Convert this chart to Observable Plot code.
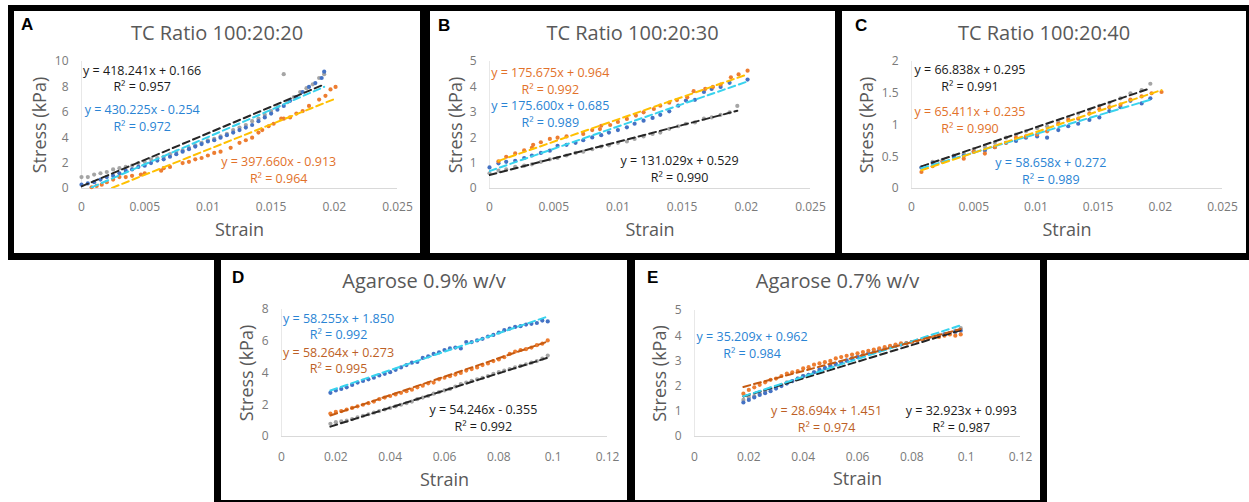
<!DOCTYPE html>
<html><head><meta charset="utf-8">
<script src="https://cdn.jsdelivr.net/npm/d3@7"></script>
<script src="https://cdn.jsdelivr.net/npm/@observablehq/plot@0.6"></script>
<style>
html,body{margin:0;padding:0;background:#fff}
body{width:1249px;height:502px;position:relative;overflow:hidden;font-family:"Open Sans",sans-serif}
.blk{position:absolute;background:#000}
.pan{position:absolute;background:#fff;overflow:hidden}
.pan svg{position:absolute;left:0;top:0;overflow:visible}
.ttl{position:absolute;left:0;width:100%;text-align:center;font-size:20px;line-height:20px;color:#595959;white-space:nowrap}
.let{position:absolute;font-family:"Liberation Sans",Arial,sans-serif;font-weight:bold;font-size:17px;line-height:17px;color:#000}
</style></head>
<body>
<div class="blk" style="left:8px;top:5px;width:1241px;height:255px"></div>
<div class="blk" style="left:214px;top:253px;width:833px;height:249px"></div>
<script>
// ---------- data ----------
const titles = ["TC Ratio 100:20:20","TC Ratio 100:20:30","TC Ratio 100:20:40","Agarose 0.9% w/v","Agarose 0.7% w/v"];
const letters = ["A","B","C","D","E"];

const xTicksTC = [0,0.005,0.01,0.015,0.02,0.025];
const xTicksAg = [0,0.02,0.04,0.06,0.08,0.1,0.12];
const yTicksA = [0,2,4,6,8,10];
const yTicksB = [0,1,2,3,4,5];
const yTicksC = [0,0.5,1,1.5,2];
const yTicksD = [0,2,4,6,8];
const yTicksE = [0,1,2,3,4,5];

// Panel A
const A_gray = [[0,0.9],[0.0005,0.9],[0.001,1.1],[0.0015,1.2],[0.002,1.3],[0.0025,1.5],[0.003,1.6],[0.0035,1.7],[0.004,1.8],[0.0045,2.0],[0.005,2.1],[0.0055,2.3],[0.006,2.4],[0.0065,2.5],[0.007,2.7],[0.0075,2.9],[0.008,3.0],[0.0085,3.2],[0.009,3.4],[0.0095,3.6],[0.01,3.8],[0.0105,3.9],[0.011,4.1],[0.0115,4.3],[0.012,4.6],[0.0125,4.8],[0.013,5.0],[0.0135,5.3],[0.014,5.5],[0.0145,5.8],[0.015,6.1],[0.0155,6.4],[0.016,9.0],[0.0163,6.8],[0.0168,7.2],[0.0173,7.6],[0.0178,7.9],[0.0183,8.2],[0.0188,8.7],[0.0192,9.0]];
const A_blue = [[0,0.3],[0.0005,0.4],[0.001,0.5],[0.0015,0.7],[0.002,0.9],[0.0025,1.0],[0.003,1.2],[0.0035,1.4],[0.004,1.5],[0.0045,1.7],[0.005,1.8],[0.0055,2.0],[0.006,2.2],[0.0065,2.3],[0.007,2.5],[0.0075,2.7],[0.008,2.9],[0.0085,3.1],[0.009,3.3],[0.0095,3.5],[0.01,3.7],[0.0105,3.8],[0.011,4.0],[0.0115,4.2],[0.012,4.4],[0.0125,4.6],[0.013,4.8],[0.0135,5.0],[0.014,5.3],[0.0145,5.6],[0.015,5.9],[0.0155,6.2],[0.016,6.5],[0.0165,6.9],[0.017,7.2],[0.0175,7.6],[0.018,8.0],[0.0185,8.3],[0.019,8.7],[0.0192,9.2]];
const A_orange = [[0.0008,0.1],[0.0012,0.2],[0.0016,0.3],[0.002,0.5],[0.0025,0.7],[0.003,0.9],[0.0035,0.9],[0.004,1.0],[0.0047,1.1],[0.005,1.2],[0.0063,1.4],[0.0065,1.6],[0.007,1.7],[0.008,2.0],[0.0085,2.1],[0.009,2.3],[0.0095,2.4],[0.01,2.6],[0.0105,2.8],[0.011,2.9],[0.0118,3.2],[0.0125,3.6],[0.013,3.8],[0.0135,4.0],[0.014,4.4],[0.0143,4.6],[0.0148,4.9],[0.0152,5.1],[0.0158,5.5],[0.016,5.5],[0.0165,5.6],[0.017,5.9],[0.0175,6.1],[0.018,6.5],[0.0188,7.0],[0.0193,7.3],[0.0197,7.8],[0.0201,8.0]];
const A_fitSlope = [418.241, 430.225, 397.660];
const A_fitIntercept = [0.166, -0.254, -0.913];
const A_fitR2 = ["0.957","0.972","0.964"];

// Panel B
const B_gray = [[0,0.6],[0.0007,0.7],[0.0013,0.75],[0.002,0.85],[0.0027,0.9],[0.0033,0.95],[0.004,1.05],[0.0047,1.15],[0.0053,1.2],[0.006,1.3],[0.0067,1.4],[0.0073,1.45],[0.008,1.55],[0.0087,1.65],[0.0093,1.7],[0.01,1.8],[0.0107,1.85],[0.0113,1.95],[0.012,2.05],[0.0127,2.15],[0.0133,2.2],[0.014,2.35],[0.0147,2.45],[0.0153,2.55],[0.016,2.6],[0.0167,2.75],[0.0173,2.8],[0.018,2.9],[0.0187,3.0],[0.0193,3.25]];
const B_blue = [[0,0.83],[0.0007,0.99],[0.0013,1.05],[0.002,1.09],[0.0027,1.2],[0.0033,1.3],[0.004,1.4],[0.0047,1.49],[0.0053,1.68],[0.006,1.72],[0.0067,1.8],[0.0073,1.9],[0.008,2.01],[0.0087,2.1],[0.0093,2.2],[0.01,2.3],[0.0107,2.41],[0.0113,2.55],[0.012,2.67],[0.0127,2.78],[0.0133,2.9],[0.014,3.04],[0.0147,3.26],[0.0153,3.46],[0.016,3.49],[0.0167,3.8],[0.0173,3.92],[0.018,4.0],[0.0187,4.16],[0.0201,4.29]];
const B_orange = [[0.0007,1.07],[0.0013,1.25],[0.002,1.38],[0.0027,1.5],[0.0033,1.6],[0.0034,1.72],[0.004,1.82],[0.0047,1.95],[0.0053,2.0],[0.006,2.05],[0.0073,2.15],[0.008,2.3],[0.0086,2.34],[0.0087,2.47],[0.0094,2.5],[0.01,2.62],[0.0107,2.74],[0.0114,2.87],[0.012,3.0],[0.0128,3.13],[0.0133,3.26],[0.014,3.38],[0.0146,3.48],[0.0154,3.59],[0.0159,3.83],[0.0168,3.92],[0.0174,4.0],[0.018,4.09],[0.0188,4.38],[0.0194,4.49],[0.0201,4.64]];
const B_fitSlope = [131.029, 175.600, 175.675];
const B_fitIntercept = [0.529, 0.685, 0.964];
const B_fitR2 = ["0.990","0.989","0.992"];

// Panel C
const C_gray = [[0.0008,0.33],[0.0017,0.42],[0.0025,0.45],[0.0034,0.52],[0.0042,0.55],[0.005,0.62],[0.0059,0.66],[0.0067,0.72],[0.0076,0.8],[0.0084,0.85],[0.0092,0.9],[0.0101,0.95],[0.0109,0.98],[0.0118,1.05],[0.0126,1.12],[0.0134,1.18],[0.0143,1.24],[0.0151,1.3],[0.0159,1.35],[0.0168,1.42],[0.0176,1.5],[0.0185,1.55],[0.0192,1.65]];
const C_blue = [[0.0008,0.33],[0.0017,0.4],[0.0025,0.43],[0.0034,0.5],[0.0042,0.52],[0.005,0.58],[0.0059,0.6],[0.0067,0.65],[0.0076,0.72],[0.0084,0.75],[0.0092,0.8],[0.0101,0.82],[0.0109,0.8],[0.0118,0.92],[0.0126,0.98],[0.0134,1.02],[0.0143,1.08],[0.0151,1.12],[0.0159,1.22],[0.0168,1.28],[0.0176,1.38],[0.0185,1.34],[0.0192,1.42]];
const C_orange = [[0.0008,0.26],[0.0017,0.35],[0.0025,0.42],[0.0042,0.47],[0.005,0.58],[0.0059,0.55],[0.0067,0.65],[0.0076,0.72],[0.0084,0.8],[0.0092,0.82],[0.0101,0.85],[0.0109,0.9],[0.0118,1.02],[0.0126,1.08],[0.0134,1.1],[0.0143,1.18],[0.0151,1.25],[0.0159,1.28],[0.0168,1.32],[0.0176,1.4],[0.0185,1.45],[0.0193,1.5],[0.0201,1.52]];
const C_fitSlope = [66.838, 58.658, 65.411];
const C_fitIntercept = [0.295, 0.272, 0.235];
const C_fitR2 = ["0.991","0.989","0.990"];

// Panels D and E share strain steps
const agStrain = [0.018,0.02,0.022,0.024,0.026,0.028,0.03,0.032,0.034,0.036,0.038,0.04,0.042,0.044,0.046,0.048,0.05,0.052,0.054,0.056,0.058,0.06,0.062,0.064,0.066,0.068,0.07,0.072,0.074,0.076,0.078,0.08,0.082,0.084,0.086,0.088,0.09,0.092,0.094,0.096,0.098];
const D_grayStress = [0.8,0.9,0.95,1.0,1.1,1.2,1.3,1.4,1.5,1.6,1.7,1.8,1.9,2.0,2.1,2.2,2.35,2.45,2.55,2.7,2.8,2.9,3.0,3.15,3.3,3.4,3.5,3.6,3.7,3.8,3.95,4.05,4.15,4.25,4.35,4.45,4.55,4.65,4.75,4.9,5.1];
const D_blueStress = [2.75,2.9,3.0,3.1,3.25,3.4,3.5,3.6,3.7,3.85,3.95,4.05,4.2,4.35,4.5,4.65,4.7,4.95,5.05,5.2,5.3,5.45,5.55,5.6,5.55,5.95,5.95,6.05,6.15,6.3,6.4,6.55,6.7,6.8,6.9,6.95,7.05,7.1,7.15,7.3,7.25];
const D_orangeStress = [1.45,1.55,1.6,1.7,1.8,1.9,2.0,2.1,2.2,2.35,2.45,2.55,2.65,2.75,2.85,2.95,3.1,3.2,3.35,3.4,3.6,3.7,3.8,3.9,4.0,4.15,4.25,4.35,4.5,4.6,4.75,4.85,5.0,5.2,5.35,5.45,5.5,5.6,5.75,5.85,6.05];
const D_fitSlope = [54.246, 58.255, 58.264];
const D_fitIntercept = [-0.355, 1.850, 0.273];
const D_fitR2 = ["0.992","0.992","0.995"];

const E_grayStress = [1.45,1.55,1.6,1.7,1.8,1.9,1.95,2.05,2.15,2.2,2.3,2.4,2.45,2.55,2.6,2.7,2.8,2.85,2.95,3.0,3.1,3.15,3.2,3.3,3.35,3.4,3.5,3.55,3.6,3.65,3.7,3.75,3.8,3.85,3.9,3.95,4.0,4.05,4.1,4.2,4.3];
const E_blueStress = [1.35,1.45,1.55,1.65,1.72,1.8,1.9,2.0,2.1,2.2,2.3,2.4,2.45,2.55,2.65,2.72,2.8,2.88,2.95,3.02,3.1,3.15,3.22,3.3,3.35,3.42,3.48,3.55,3.6,3.65,3.7,3.75,3.8,3.85,3.9,3.95,4.0,4.05,4.1,4.15,4.2];
const E_orangeStress = [1.7,1.85,1.95,2.05,2.15,2.25,2.3,2.4,2.5,2.55,2.6,2.7,2.75,2.85,2.9,2.95,3.0,3.1,3.15,3.2,3.25,3.3,3.35,3.4,3.45,3.5,3.55,3.6,3.65,3.7,3.7,3.75,3.8,3.85,3.9,3.95,3.95,4.0,4.05,4.0,4.05];
const E_fitSlope = [32.923, 35.209, 28.694];
const E_fitIntercept = [0.993, 0.962, 1.451];
const E_fitR2 = ["0.987","0.984","0.974"];

// label anchors (data coordinates) for gray, blue, orange equations
const A_labelAt = [[0.0048,9.29],[0.0048,6.18],[0.0156,2.05]];
const B_labelAt = [[0.0148,1.07],[0.00473,3.24],[0.00473,4.54]];
const C_labelAt = [[0.0047,1.86],[0.0112,0.40],[0.0047,1.20]];
const D_labelAt = [[0.0743,1.64],[0.021,7.43],[0.021,5.26]];
const E_labelAt = [[0.0982,1.00],[0.0212,3.94],[0.0486,1.00]];

// ---------- styles / layout ----------
const dotColor = {gray:"#a5a5a5", blue:"#4472c4", orange:"#ed7d31"};
const seriesKeys = ["gray","blue","orange"];

function pairs(xs, ys){ return xs.map((x,i)=>[x, ys[i]]); }
function fmtEq(m, b){
  const s = b < 0 ? " - " : " + ";
  return `y = ${m.toFixed(3)}x${s}${Math.abs(b).toFixed(3)}`;
}

const panels = [
  {series:[A_gray,A_blue,A_orange], slope:A_fitSlope, icpt:A_fitIntercept, r2:A_fitR2, at:A_labelAt,
   xd:[0,0.025], xt:xTicksTC, yd:[0,10], yt:yTicksA,
   box:[14,11,406,242], m:[50,23,65,67], tp:14, sdy:42, sdx:-41, lt:[7,5], tt:12,
   fit:{gray:"#262626", blue:"#38d3ee", orange:"#ffc000"}, txt:{gray:"#1a1a1a", blue:"#2a84d4", orange:"#e2712a"}},
  {series:[B_gray,B_blue,B_orange], slope:B_fitSlope, icpt:B_fitIntercept, r2:B_fitR2, at:B_labelAt,
   xd:[0,0.025], xt:xTicksTC, yd:[0,5], yt:yTicksB,
   box:[430,11,405,242], m:[50,25,65,59], tp:14, sdy:42, sdx:-33, lt:[8,6], tt:12,
   fit:{gray:"#262626", blue:"#38d3ee", orange:"#ffc000"}, txt:{gray:"#1a1a1a", blue:"#2a84d4", orange:"#e2712a"}},
  {series:[C_gray,C_blue,C_orange], slope:C_fitSlope, icpt:C_fitIntercept, r2:C_fitR2, at:C_labelAt,
   xd:[0,0.025], xt:xTicksTC, yd:[0,2], yt:yTicksC,
   box:[842,11,404,242], m:[50,24,65,69], tp:14, sdy:42, sdx:-44, lt:[13,6], tt:12,
   fit:{gray:"#262626", blue:"#38d3ee", orange:"#ffc000"}, txt:{gray:"#1a1a1a", blue:"#2a84d4", orange:"#e2712a"}},
  {series:[pairs(agStrain,D_grayStress),pairs(agStrain,D_blueStress),pairs(agStrain,D_orangeStress)], slope:D_fitSlope, icpt:D_fitIntercept, r2:D_fitR2, at:D_labelAt,
   xd:[0,0.12], xt:xTicksAg, yd:[0,8], yt:yTicksD,
   box:[221,260,406,240], m:[49,20,64,60], tp:16, sdy:44, sdx:-34, lt:[11,9], tt:11,
   fit:{gray:"#262626", blue:"#38d3ee", orange:"#c55a11"}, txt:{gray:"#1a1a1a", blue:"#2a84d4", orange:"#bd5f26"}},
  {series:[pairs(agStrain,E_grayStress),pairs(agStrain,E_blueStress),pairs(agStrain,E_orangeStress)], slope:E_fitSlope, icpt:E_fitIntercept, r2:E_fitR2, at:E_labelAt,
   xd:[0,0.12], xt:xTicksAg, yd:[0,5], yt:yTicksE,
   box:[635,260,405,240], m:[50,20,64,59], tp:16, sdy:43, sdx:-34, lt:[12,9], tt:11,
   fit:{gray:"#262626", blue:"#38d3ee", orange:"#c55a11"}, txt:{gray:"#1a1a1a", blue:"#2a84d4", orange:"#bd5f26"}}
];

panels.forEach((p, i) => {
  const [left, top, w, h] = p.box;
  const div = document.createElement("div");
  div.className = "pan";
  div.style.cssText = `left:${left}px;top:${top}px;width:${w}px;height:${h}px`;
  document.body.appendChild(div);

  const pts = [];
  p.series.forEach((arr, k) => arr.forEach(([x,y]) => pts.push({x, y, s:seriesKeys[k]})));
  const fits = [];
  p.series.forEach((arr, k) => {
    const xs = arr.map(d=>d[0]);
    const x0 = d3.min(xs), x1 = d3.max(xs);
    [x0, x1].forEach(x => fits.push({x, y:p.slope[k]*x + p.icpt[k], s:seriesKeys[k]}));
  });
  const labels = seriesKeys.map((s,k) => ({s, x:p.at[k][0], y:p.at[k][1], eq:fmtEq(p.slope[k], p.icpt[k]), r:`R² = ${p.r2[k]}`}));

  const marks = [
    Plot.ruleY([0], {stroke:"#d9d9d9", strokeWidth:1}),
    Plot.ruleX([0], {stroke:"#e8e8e8", strokeWidth:1}),
    Plot.axisX({ticks:p.xt, tickSize:0, tickPadding:p.tp, tickFormat:d=>String(d), label:null, fontSize:12, fill:"#7a7a7a"}),
    Plot.axisY({ticks:p.yt, tickSize:0, tickPadding:13, tickFormat:d=>String(d), label:null, fontSize:12, fill:"#7a7a7a"}),
    Plot.text(["Strain"], {text:d=>d, frameAnchor:"bottom", dy:p.sdy, lineAnchor:"middle", textAnchor:"middle", fontSize:18, fill:"#595959"}),
    Plot.text(["Stress (kPa)"], {text:d=>d, frameAnchor:"left", dx:p.sdx, rotate:-90, lineAnchor:"middle", textAnchor:"middle", fontSize:18, fill:"#595959"})
  ];
  seriesKeys.forEach(s => {
    marks.push(Plot.dot(pts.filter(d=>d.s===s), {x:"x", y:"y", r:2.1, fill:dotColor[s], stroke:"none"}));
  });
  seriesKeys.forEach(s => {
    marks.push(Plot.line(fits.filter(d=>d.s===s), {x:"x", y:"y", stroke:p.fit[s], strokeWidth:2, strokeDasharray:"7,4", clip:true}));
  });
  seriesKeys.forEach(s => {
    const L = labels.filter(d=>d.s===s);
    marks.push(Plot.text(L, {x:"x", y:"y", text:"eq", fill:p.txt[s], fontSize:12.5, textAnchor:"middle"}));
    marks.push(Plot.text(L, {x:"x", y:"y", text:"r", fill:p.txt[s], fontSize:12.5, textAnchor:"middle", dy:16.5}));
  });

  const svg = Plot.plot({
    width:w, height:h,
    marginTop:p.m[0], marginRight:p.m[1], marginBottom:p.m[2], marginLeft:p.m[3],
    style:{fontFamily:"'Open Sans', sans-serif", background:"transparent", overflow:"visible"},
    x:{domain:p.xd}, y:{domain:p.yd},
    marks
  });
  div.appendChild(svg);

  const t = document.createElement("div");
  t.className = "ttl"; t.textContent = titles[i]; t.style.top = p.tt + "px";
  div.appendChild(t);
  const l = document.createElement("div");
  l.className = "let"; l.textContent = letters[i];
  l.style.left = p.lt[0] + "px"; l.style.top = p.lt[1] + "px";
  div.appendChild(l);
});
</script>
</body></html>
